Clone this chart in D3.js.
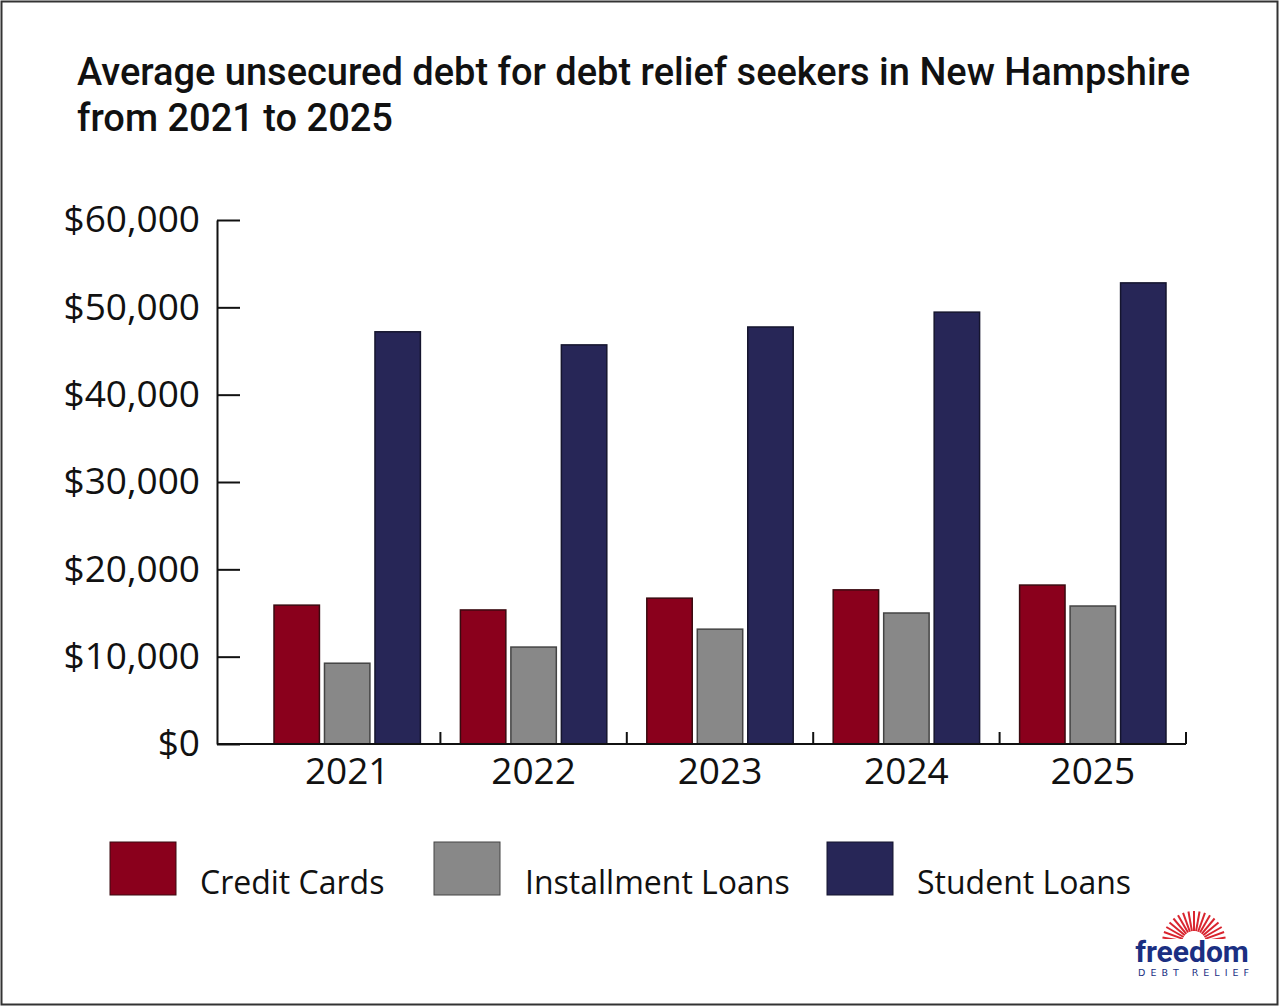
<!DOCTYPE html>
<html>
<head>
<meta charset="utf-8">
<script src="https://cdn.jsdelivr.net/npm/d3@7/dist/d3.min.js"></script>
<style>
  html, body { margin: 0; padding: 0; background: #fff; }
  svg { display: block; }
</style>
</head>
<body>
<div id="chart"></div>
<script>
'use strict';

// chart data
var years = ['2021', '2022', '2023', '2024', '2025'];
var seriesNames = ['Credit Cards', 'Installment Loans', 'Student Loans'];
var creditCards = [15900, 15350, 16700, 17650, 18200];
var installmentLoans = [9250, 11100, 13150, 15000, 15800];
var studentLoans = [47200, 45700, 47750, 49450, 52800];
var yTicks = [0, 10000, 20000, 30000, 40000, 50000, 60000];
var titleLines = ['Average unsecured debt for debt relief seekers in New Hampshire', 'from 2021 to 2025'];

var seriesValues = [creditCards, installmentLoans, studentLoans];
var fills = ['#8a001c', '#888888', '#272657'];
var strokes = ['#3a0a10', '#444444', '#15152e'];

var width = 1280,
    height = 1006;

var svg = d3.select('#chart')
    .append('svg')
    .attr('width', width)
    .attr('height', height);

// outer frame
svg.append('rect')
    .attr('x', 1.5).attr('y', 1.5)
    .attr('width', 1276).attr('height', 1003)
    .attr('fill', '#fff')
    .attr('stroke', '#333')
    .attr('stroke-width', 2);

// title
svg.append('g')
    .selectAll('text')
    .data(titleLines)
    .enter().append('text')
    .attr('x', 77)
    .attr('y', function(d, i) { return 85 + i * 46; })
    .style('font-family', 'Roboto, sans-serif')
    .style('font-weight', 500)
    .style('font-size', '38px')
    .style('fill', '#111')
    .text(function(d) { return d; });

var axisLeftX = 217;

var y = d3.scaleLinear()
    .domain([0, 60000])
    .range([744, 220]);

var x = d3.scaleBand()
    .domain(years)
    .range([254, 1186])
    .padding(0);

var xInner = d3.scaleBand()
    .domain(seriesNames)
    .range([20, x.bandwidth() - 20])
    .paddingInner(0.1);

// y axis
var yAxis = svg.append('g')
    .attr('transform', 'translate(' + axisLeftX + ',0)')
    .call(d3.axisLeft(y)
        .tickValues(yTicks)
        .tickSizeInner(-23)
        .tickSizeOuter(0)
        .tickPadding(17)
        .tickFormat(function(d) { return '$' + d3.format(',')(d); }));
yAxis.select('.domain').attr('stroke', '#111').attr('stroke-width', 2);
yAxis.selectAll('.tick line').attr('stroke', '#111').attr('stroke-width', 2);
yAxis.selectAll('.tick text')
    .style('font-family', '"Open Sans", sans-serif')
    .style('font-size', '37px')
    .style('fill', '#111');

// bars
var groups = svg.append('g')
    .selectAll('g')
    .data(years)
    .enter().append('g')
    .attr('transform', function(d) { return 'translate(' + x(d) + ',0)'; });

groups.selectAll('rect')
    .data(function(d, i) {
        return seriesNames.map(function(s, k) {
            return { series: s, k: k, value: seriesValues[k][i] };
        });
    })
    .enter().append('rect')
    .attr('x', function(d) { return xInner(d.series); })
    .attr('y', function(d) { return y(d.value); })
    .attr('width', xInner.bandwidth())
    .attr('height', function(d) { return y(0) - y(d.value); })
    .attr('fill', function(d) { return fills[d.k]; })
    .attr('stroke', function(d) { return strokes[d.k]; })
    .attr('stroke-width', 1.5);

// x axis
var xAxis = svg.append('g')
    .attr('transform', 'translate(0,' + y(0) + ')')
    .call(d3.axisBottom(x).tickSize(0).tickPadding(14));
xAxis.select('.domain').remove();
xAxis.selectAll('.tick text')
    .style('font-family', '"Open Sans", sans-serif')
    .style('font-size', '37px')
    .style('fill', '#111');

xAxis.append('line')
    .attr('x1', axisLeftX)
    .attr('x2', x.range()[1])
    .attr('stroke', '#111')
    .attr('stroke-width', 2);

xAxis.selectAll('.bound')
    .data(years)
    .enter().append('line')
    .attr('class', 'bound')
    .attr('x1', function(d) { return x(d) + x.bandwidth(); })
    .attr('x2', function(d) { return x(d) + x.bandwidth(); })
    .attr('y1', 0)
    .attr('y2', -12)
    .attr('stroke', '#111')
    .attr('stroke-width', 2);

// legend
var legendX = [110, 434, 827];
var legend = svg.append('g')
    .selectAll('g')
    .data(seriesNames)
    .enter().append('g')
    .attr('transform', function(d, i) { return 'translate(' + legendX[i] + ',842)'; });

legend.append('rect')
    .attr('width', 66)
    .attr('height', 53)
    .attr('fill', function(d, i) { return fills[i]; })
    .attr('stroke', function(d, i) { return strokes[i]; })
    .attr('stroke-width', 1);

legend.append('text')
    .attr('x', function(d, i) { return i === 1 ? 91 : 90; })
    .attr('y', 52)
    .style('font-family', '"Open Sans", sans-serif')
    .style('font-size', '32px')
    .style('fill', '#111')
    .text(function(d) { return d; });

// logo
var logo = svg.append('g').attr('transform', 'translate(1194,943)');
var rayAngles = d3.range(-80, 81, 10);
logo.selectAll('line')
    .data(rayAngles)
    .enter().append('line')
    .attr('x1', function(a) { return 12 * Math.sin(a * Math.PI / 180); })
    .attr('y1', function(a) { return -12 * Math.cos(a * Math.PI / 180); })
    .attr('x2', function(a) { return 32 * Math.sin(a * Math.PI / 180); })
    .attr('y2', function(a) { return -32 * Math.cos(a * Math.PI / 180); })
    .attr('stroke', '#d9252f')
    .attr('stroke-width', 2);
logo.append('rect')
    .attr('x', -60).attr('y', -4)
    .attr('width', 120).attr('height', 10)
    .attr('fill', '#fff');
svg.append('text')
    .attr('x', 1192)
    .attr('y', 962)
    .attr('text-anchor', 'middle')
    .style('font-family', 'Roboto, sans-serif')
    .style('font-weight', 700)
    .style('font-size', '30px')
    .style('fill', '#1b2f82')
    .text('freedom');
svg.append('text')
    .attr('x', 1196)
    .attr('y', 976)
    .attr('text-anchor', 'middle')
    .style('font-family', '"DejaVu Sans", sans-serif')
    .style('font-size', '9.5px')
    .style('letter-spacing', '5px')
    .style('fill', '#1b2f82')
    .text('DEBT RELIEF');
</script>
</body>
</html>
